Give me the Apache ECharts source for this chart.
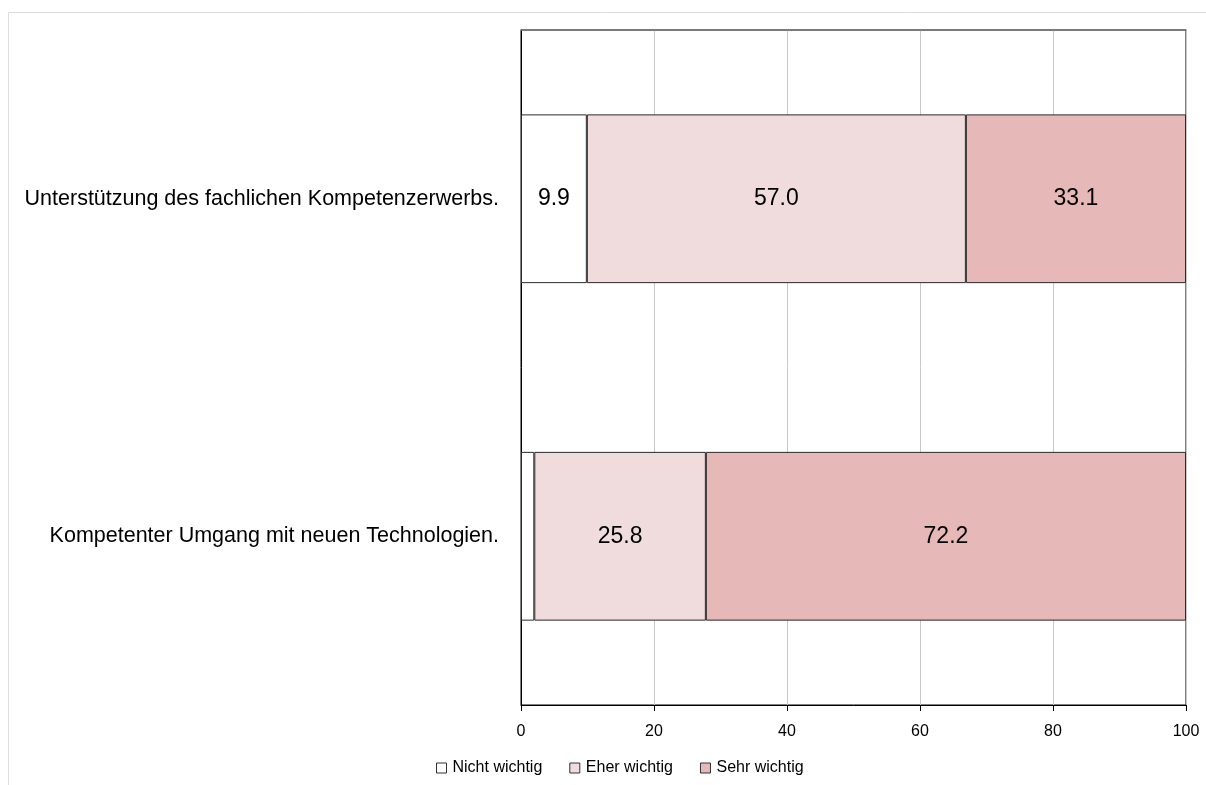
<!DOCTYPE html>
<html>
<head>
<meta charset="utf-8">
<script src="https://cdn.jsdelivr.net/npm/echarts@6/dist/echarts.min.js"></script>
<style>
  html, body { margin: 0; padding: 0; background: #fff; }
  #chart { width: 1206px; height: 785px; }
</style>
</head>
<body>
<div id="chart"></div>
<script>
// Survey items (top to bottom) and answer shares in percent
const categories = [
  'Unterstützung des fachlichen Kompetenzerwerbs.',
  'Kompetenter Umgang mit neuen Technologien.'
];
const seriesNames = ['Nicht wichtig', 'Eher wichtig', 'Sehr wichtig'];
const nichtWichtig = [9.9, 2.0];
const eherWichtig = [57.0, 25.8];
const sehrWichtig = [33.1, 72.2];
const xTicks = [0, 20, 40, 60, 80, 100];

const colors = ['#ffffff', '#f0dcdc', '#e6b8b8'];
const FONT = "'Liberation Sans', Arial, sans-serif";

function makeSeries(name, values, color) {
  return {
    name: name,
    type: 'bar',
    stack: 'total',
    barWidth: '50%',
    data: values,
    itemStyle: { color: color, borderColor: '#2a2a2a', borderWidth: 1 },
    label: {
      show: true,
      position: 'inside',
      color: '#000',
      fontFamily: FONT,
      fontSize: 23,
      formatter: p => (p.value >= 5 ? p.value.toFixed(1) : '')
    },
    emphasis: { disabled: true }
  };
}

const chart = echarts.init(document.getElementById('chart'), null, { renderer: 'canvas' });
chart.setOption({
  animation: false,
  backgroundColor: '#fff',
  textStyle: { fontFamily: FONT },
  graphic: [{
    type: 'rect',
    shape: { x: 8.5, y: 12.5, width: 1400, height: 1000 },
    style: { fill: 'none', stroke: '#dcdcdc', lineWidth: 1 },
    silent: true,
    z: -10
  }],
  grid: {
    left: 521, top: 30, width: 665, height: 675,
    containLabel: false,
    outerBoundsMode: 'none',
    show: true, borderColor: '#000', borderWidth: 1
  },
  legend: {
    top: 760,
    left: 436,
    padding: 0,
    itemWidth: 10,
    itemHeight: 10,
    itemGap: 27,
    icon: 'rect',
    data: seriesNames.map((n, i) => ({
      name: n,
      itemStyle: { color: colors[i], borderColor: '#333', borderWidth: 1 }
    })),
    textStyle: { fontFamily: FONT, fontSize: 16, color: '#000', padding: [0, 0, 0, 1] }
  },
  xAxis: [{
    type: 'value',
    min: xTicks[0],
    max: xTicks[xTicks.length - 1],
    interval: 20,
    position: 'bottom',
    axisLine: { show: true, lineStyle: { color: '#000', width: 1 } },
    axisTick: { show: true, length: 6, lineStyle: { color: '#000' } },
    axisLabel: { color: '#000', fontFamily: FONT, fontSize: 16, margin: 19 },
    splitLine: { show: true, lineStyle: { color: '#c8c8c8', width: 1 } }
  }, {
    type: 'value',
    min: xTicks[0],
    max: xTicks[xTicks.length - 1],
    position: 'top',
    axisLine: { show: true, lineStyle: { color: '#7a7a7a', width: 1.5 } },
    axisTick: { show: false },
    axisLabel: { show: false },
    splitLine: { show: false }
  }],
  yAxis: {
    type: 'category',
    inverse: true,
    data: categories,
    axisLine: { show: true, lineStyle: { color: '#000', width: 1 } },
    axisTick: { show: false },
    axisLabel: { color: '#000', fontFamily: FONT, fontSize: 21.5, margin: 22 }
  },
  series: [
    makeSeries(seriesNames[0], nichtWichtig, colors[0]),
    makeSeries(seriesNames[1], eherWichtig, colors[1]),
    makeSeries(seriesNames[2], sehrWichtig, colors[2])
  ]
});
</script>
</body>
</html>
